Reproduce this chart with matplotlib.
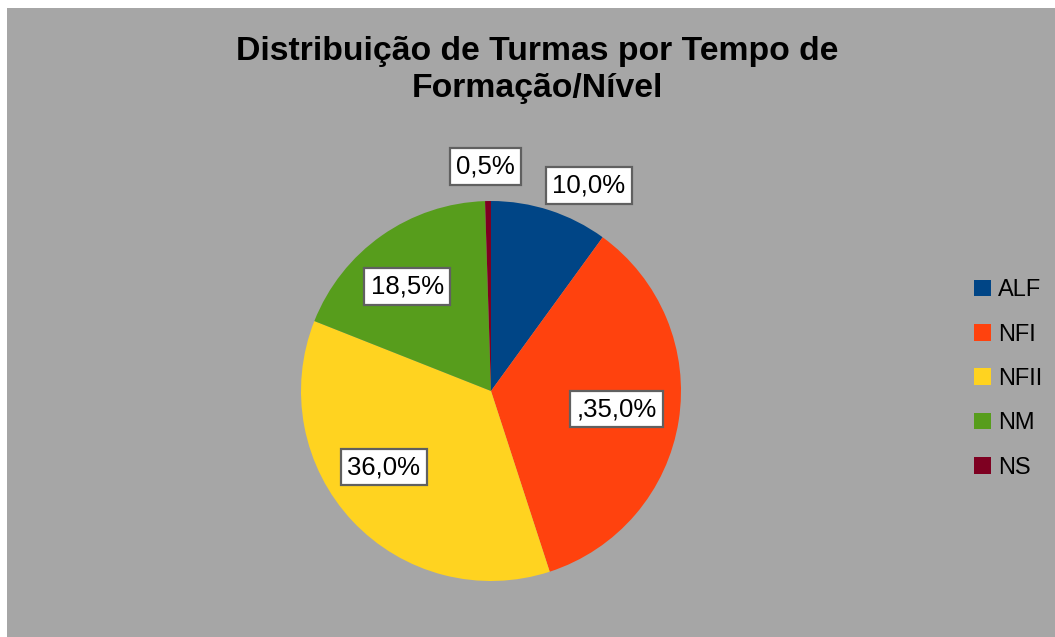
import matplotlib.pyplot as plt
from matplotlib.patches import Patch

# data
categories = ['ALF', 'NFI', 'NFII', 'NM', 'NS']
values = [10.0, 35.0, 36.0, 18.5, 0.5]
labels = ['10,0%', ',35,0%', '36,0%', '18,5%', '0,5%']
colors = ['#004586', '#ff420e', '#ffd320', '#579d1c', '#7e0021']

# label positions in units of pie radius, relative to centre
label_pos = [(0.515, 1.08), (0.66, -0.095), (-0.565, -0.40), (-0.44, 0.55), (-0.03, 1.18)]

plt.rcParams['font.family'] = ['Liberation Sans', 'DejaVu Sans']

W, H = 1055, 637
fig = plt.figure(figsize=(W / 100, H / 100), dpi=100)
fig.patch.set_facecolor('white')

# grey chart area (white strip top/left)
bg = fig.add_axes([7 / W, 0, 1 - 7 / W, 1 - 8 / H])
bg.set_facecolor('#a6a6a6')
bg.set_xticks([])
bg.set_yticks([])
for s in bg.spines.values():
    s.set_visible(False)

cx, cy, r = 491, 391, 190
ax = fig.add_axes([(cx - r) / W, (H - cy - r) / H, 2 * r / W, 2 * r / H])
ax.axis('off')

wedges, _ = ax.pie(values, colors=colors, startangle=90, counterclock=False,
                   radius=1, wedgeprops=dict(linewidth=0))
ax.set_xlim(-1, 1)
ax.set_ylim(-1, 1)

for txt, (x, y) in zip(labels, label_pos):
    ax.text(x, y, txt, ha='center', va='center', fontsize=18.5, color='black',
            bbox=dict(boxstyle='square,pad=0.25', facecolor='white',
                      edgecolor='#606060', linewidth=1.6),
            clip_on=False)

fig.text(537 / W, 1 - 70 / H, 'Distribuição de Turmas por Tempo de\nFormação/Nível',
         ha='center', va='center', fontsize=24.3, fontweight='bold',
         linespacing=1.25)

handles = [Patch(facecolor=c, edgecolor='none') for c in colors]
fig.legend(handles, categories, loc='center left',
           bbox_to_anchor=(953 / W, 1 - 379 / H), frameon=False,
           fontsize=17, handlelength=0.7, handleheight=0.7,
           handletextpad=0.3, labelspacing=0.95)

fig.savefig('out.png', dpi=100)
